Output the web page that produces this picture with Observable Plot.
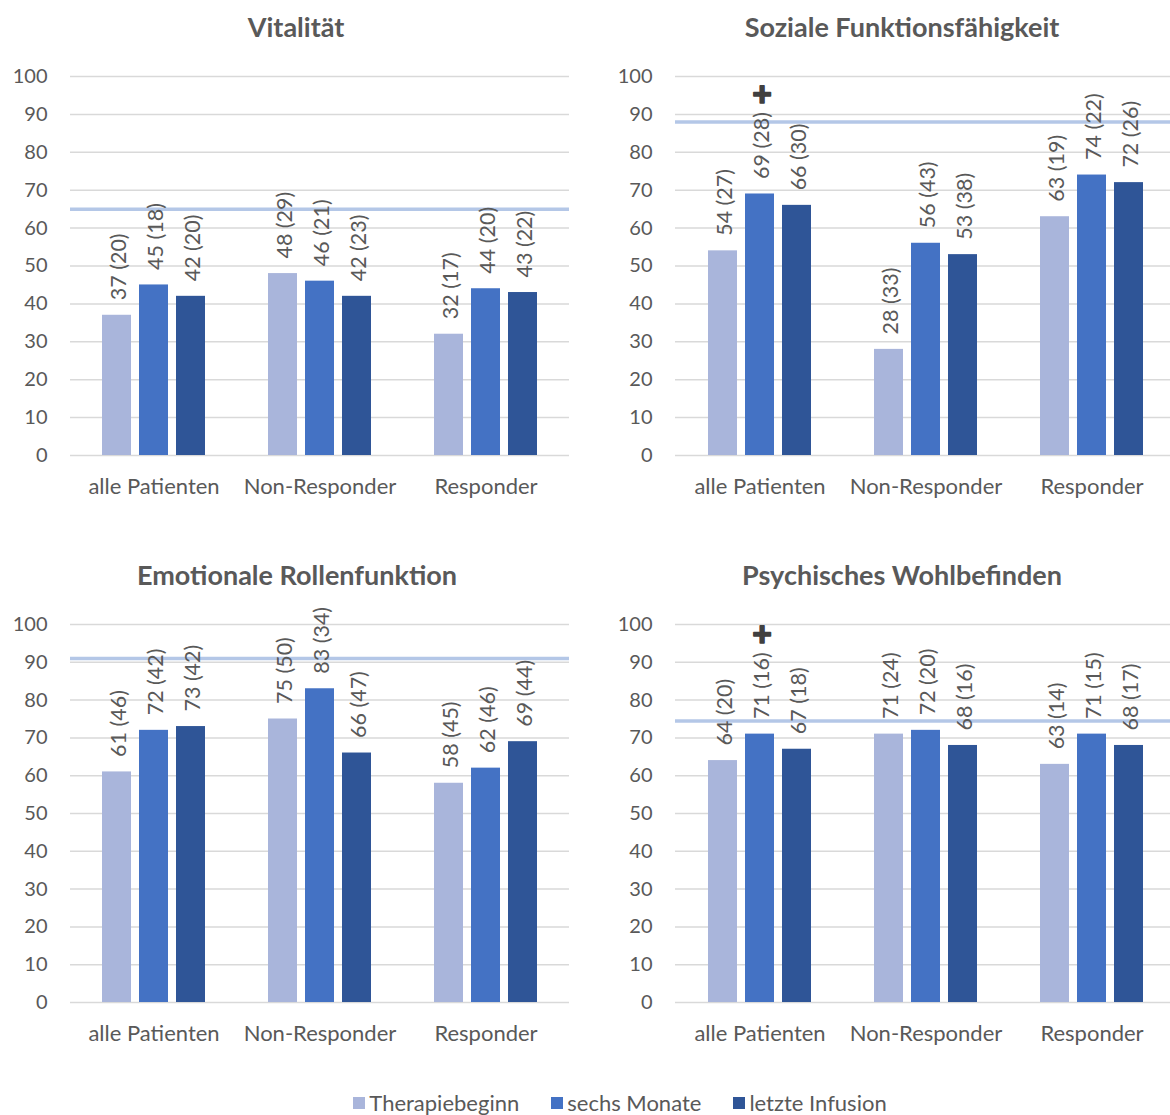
<!DOCTYPE html>
<html><head><meta charset="utf-8">
<script src="https://cdn.jsdelivr.net/npm/d3@7"></script>
<script src="https://cdn.jsdelivr.net/npm/@observablehq/plot@0.6"></script>
<style>
body{margin:0;background:#fff;font-family:Lato,sans-serif;color:#595959;overflow:hidden;}
#wrap{position:relative;width:1170px;height:1115px;overflow:hidden;}
.panel{position:absolute;width:590px;height:548px;}
.title{position:absolute;top:0;transform:translateX(-50%);white-space:nowrap;font-weight:bold;font-size:27px;line-height:54px;color:#595959;}
.panel svg{position:absolute;top:50px;left:0;overflow:visible;}
#legend{position:absolute;top:1090px;left:0;width:1170px;display:flex;justify-content:center;gap:32px;font-size:22px;line-height:26px;color:#595959;padding-left:70px;box-sizing:border-box;}
#legend .it{display:flex;align-items:center;gap:4px;}
#legend .sw{width:12px;height:12px;display:inline-block;}
</style>
</head><body>
<div id="wrap"></div>
<script>
// ---- data ----
const groups = ["alle Patienten", "Non-Responder", "Responder"];
const series = ["Therapiebeginn", "sechs Monate", "letzte Infusion"];
const colors = ["#a9b5db", "#4472c4", "#2f5597"];
const yTicks = [0, 10, 20, 30, 40, 50, 60, 70, 80, 90, 100];

const titles = ["Vitalität", "Soziale Funktionsfähigkeit", "Emotionale Rollenfunktion", "Psychisches Wohlbefinden"];
// values[group][series]
const vitalitaetMean = [[37, 45, 42], [48, 46, 42], [32, 44, 43]];
const vitalitaetSD   = [[20, 18, 20], [29, 21, 23], [17, 20, 22]];
const sozialMean = [[54, 69, 66], [28, 56, 53], [63, 74, 72]];
const sozialSD   = [[27, 28, 30], [33, 43, 38], [19, 22, 26]];
const emotionalMean = [[61, 72, 73], [75, 83, 66], [58, 62, 69]];
const emotionalSD   = [[46, 42, 42], [50, 34, 47], [45, 46, 44]];
const psychischMean = [[64, 71, 67], [71, 72, 68], [63, 71, 68]];
const psychischSD   = [[20, 16, 18], [24, 20, 16], [14, 15, 17]];
// reference lines (norm values)
const refValues = [65, 88, 91, 74.5];
// significance markers (+): [group index, series index]
const vitalitaetMarks = [];
const sozialMarks = [[0, 1]];
const emotionalMarks = [];
const psychischMarks = [[0, 1]];

const panels = [
  {title: titles[0], mean: vitalitaetMean, sd: vitalitaetSD, ref: refValues[0], marks: vitalitaetMarks},
  {title: titles[1], mean: sozialMean, sd: sozialSD, ref: refValues[1], marks: sozialMarks},
  {title: titles[2], mean: emotionalMean, sd: emotionalSD, ref: refValues[2], marks: emotionalMarks},
  {title: titles[3], mean: psychischMean, sd: psychischSD, ref: refValues[3], marks: psychischMarks}
];

// ---- layout ----
const layout = [
  {left: 0, top: 0, titleX: 296, width: 585, ml: 70, mr: 16, height: 498, ph: 379},
  {left: 585, top: 0, titleX: 317, width: 590, ml: 90, mr: 0, height: 498, ph: 379},
  {left: 0, top: 548, titleX: 297, width: 585, ml: 70, mr: 16, height: 454, ph: 378},
  {left: 585, top: 548, titleX: 317, width: 590, ml: 90, mr: 0, height: 454, ph: 378}
];

const wrap = document.getElementById("wrap");
const font = {fontFamily: "Lato, sans-serif", fontSize: "20px", color: "#595959", background: "transparent", overflow: "visible"};

panels.forEach((p, i) => {
  const L = layout[i];
  const rows = [];
  groups.forEach((g, gi) => series.forEach((s, si) => {
    rows.push({
      group: g, series: s, value: p.mean[gi][si],
      label: `${p.mean[gi][si]} (${p.sd[gi][si]})`,
      marked: p.marks.some(([a, b]) => a === gi && b === si)
    });
  }));
  const div = document.createElement("div");
  div.className = "panel";
  div.style.left = L.left + "px";
  div.style.top = L.top + "px";
  const t = document.createElement("div");
  t.className = "title";
  t.style.left = L.titleX + "px";
  t.textContent = p.title;
  div.appendChild(t);

  const common = {
    width: L.width, height: L.height,
    marginTop: 26, marginBottom: L.height - 26 - L.ph,
    marginLeft: L.ml, marginRight: L.mr,
    style: font
  };

  // background layer: gridlines, norm line, y axis
  const back = Plot.plot({
    ...common,
    y: {domain: [0, 100], label: null},
    marks: [
      Plot.ruleY(yTicks, {stroke: "#d9d9d9", strokeWidth: 1.5}),
      Plot.ruleY([p.ref], {stroke: "#b4c7e7", strokeWidth: 3.5}),
      Plot.axisY({ticks: yTicks, tickSize: 0, tickPadding: 23, label: null, fill: "#595959"})
    ]
  });

  // foreground layer: grouped bars and labels
  const front = Plot.plot({
    ...common,
    fx: {domain: groups, paddingInner: 0.381, paddingOuter: 0.19, label: null},
    x: {domain: series, paddingInner: 0.22, paddingOuter: 0, axis: null},
    y: {domain: [0, 100], axis: null},
    color: {domain: series, range: colors},
    marks: [
      Plot.axisFx({anchor: "bottom", tickSize: 0, tickPadding: 23, label: null, fill: "#595959", fontSize: 22}),
      Plot.barY(rows, {fx: "group", x: "series", y: "value", fill: "series"}),
      Plot.text(rows, {fx: "group", x: "series", y: "value", text: "label", rotate: -90,
        textAnchor: "start", lineAnchor: "middle", dy: -15, dx: 2, fontSize: 21.5, fill: "#595959"}),
      Plot.text(rows.filter(d => d.marked), {fx: "group", x: "series", y: "value", text: () => "+",
        dy: -99, dx: 2, fontSize: 34, fontWeight: 900, fill: "#404040", stroke: "#404040", strokeWidth: 1.5, lineAnchor: "middle"})
    ]
  });
  div.appendChild(back);
  div.appendChild(front);
  wrap.appendChild(div);
});

const legend = document.createElement("div");
legend.id = "legend";
series.forEach((s, si) => {
  const it = document.createElement("div");
  it.className = "it";
  const sw = document.createElement("span");
  sw.className = "sw";
  sw.style.background = colors[si];
  const tx = document.createElement("span");
  tx.textContent = s;
  it.appendChild(sw); it.appendChild(tx);
  legend.appendChild(it);
});
wrap.appendChild(legend);
</script>
</body></html>
